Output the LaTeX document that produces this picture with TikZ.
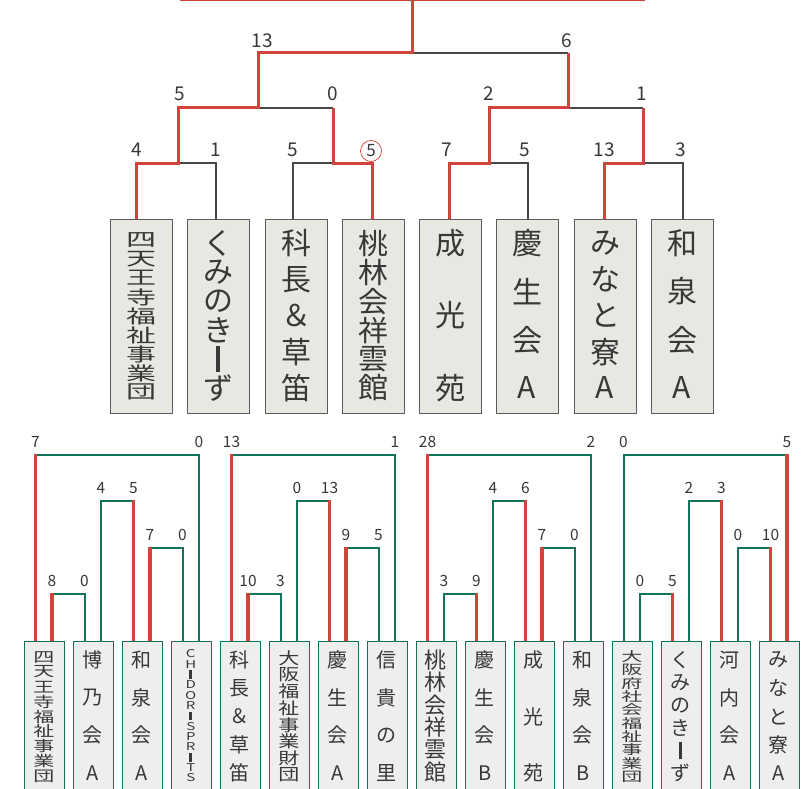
\documentclass[tikz,border=0pt]{standalone}
\usepackage{fontspec}
\usepackage{graphicx}
\setmainfont{Noto Sans CJK JP}
\usetikzlibrary{calc}
\definecolor{wred}{HTML}{D0443C}
\definecolor{lgrey}{HTML}{474747}
\definecolor{tgreen}{HTML}{13735A}
\definecolor{topfill}{HTML}{E9E7E2}
\definecolor{botfill}{HTML}{EDEFEC}
\definecolor{txt}{HTML}{383838}
\definecolor{boxline}{HTML}{5A5A5A}
\newcommand\vbarchar{\rule{0.13em}{0.85em}}
\newcommand\Ibar{\rule{0.17em}{0.8em}}
\newcommand\vcol[8]{%
  \foreach \ch [count=\i from 0] in {#8}{%
    \pgfmathsetmacro\yy{#3+(#4-#3)*\i/(#5-1)}%
    \node[chr, font=\fontsize{#6}{#6}\selectfont] (#1-\i) at (#2,\yy) {\scalebox{1}[#7]{\ch}};
  }%
}
% name, xa, xb, y, score a, score b, winner (1 left / 2 right)
\newcommand\match[7]{%
  \draw[botlose] (#2,641) -- (#2,#4) -- (#3,#4) -- (#3,641);
  \ifnum#7=1 \draw[botwin] (#2,#4-1) -- (#2,641);\else \draw[botwin] (#3,#4-1) -- (#3,641);\fi
  \node[bscore] (#1a) at (#2,#4-13) {#5};
  \node[bscore] (#1b) at (#3,#4-13) {#6};
}
\begin{document}
\begin{tikzpicture}[x=1pt,y=-1pt,
  chr/.style={inner sep=0pt, text=txt},
  topwin/.style={draw=wred, line width=3pt},
  toplose/.style={draw=lgrey, line width=1.5pt},
  botlose/.style={draw=tgreen, line width=2pt},
  botwin/.style={draw=wred, line width=3.2pt},
  topbox/.style={draw=boxline, fill=topfill, line width=1.2pt, minimum width=62pt, minimum height=194pt, anchor=north west, inner sep=0pt},
  botbox/.style={draw=tgreen, fill=botfill, line width=1.3pt, minimum width=39.5pt, minimum height=170pt, anchor=north west, inner sep=0pt},
  tscore/.style={text=txt, font=\fontsize{19}{19}\selectfont, inner sep=0pt},
  bscore/.style={text=txt, font=\fontsize{15.5}{15.5}\selectfont, inner sep=0pt},
]
\useasboundingbox (0,0) rectangle (811,789);
\clip (0,0) rectangle (811,789);

% ---------- top bracket ----------
\coordinate (L1) at (136,219);
\coordinate (L2) at (216,219);
\coordinate (L3) at (293,219);
\coordinate (L4) at (372,219);
\coordinate (L5) at (449,219);
\coordinate (L6) at (528,219);
\coordinate (L7) at (604,219);
\coordinate (L8) at (683,219);
\coordinate (M1) at (178,163);
\coordinate (M2) at (333,163);
\coordinate (M3) at (489,163);
\coordinate (M4) at (643,163);
\coordinate (N1) at (258,108);
\coordinate (N2) at (568,108);
\coordinate (F) at (412,53);
\coordinate (FT) at (412,0);
\coordinate (TL) at (180,0);
\coordinate (TR) at (645,0);

\draw[toplose] (L2) |- (M1);
\draw[toplose] (L3) |- (M2);
\draw[toplose] (L6) |- (M3);
\draw[toplose] (L8) |- (M4);
\draw[toplose] (N1) -- (M2 |- N1);
\draw[toplose] (N2) -- (M4 |- N2);
\draw[toplose] (F) -- (N2 |- F);

\draw[topwin] (L1) |- (M1) |- (N1) |- (F) -- (FT);
\draw[topwin] (L4) |- (M2) -- (M2 |- N1);
\draw[topwin] (L5) |- (M3) |- (N2) -- (N2 |- F);
\draw[topwin] (L7) |- (M4) -- (M4 |- N2);
\draw[topwin] (TL) -- (TR);

\node[tscore] (s1) at (262,41) {13};
\node[tscore] (s2) at (567,41) {6};
\node[tscore] (s3) at (180,94) {5};
\node[tscore] (s4) at (333,94) {0};
\node[tscore] (s5) at (489,94) {2};
\node[tscore] (s6) at (642,94) {1};
\node[tscore] (s7) at (137,150) {4};
\node[tscore] (s8) at (216,150) {1};
\node[tscore] (s9) at (293,150) {5};
\node[tscore, font=\fontsize{17}{17}\selectfont, draw=wred, circle, line width=0.7pt, minimum size=21pt] (s10) at (371,151) {5};
\node[tscore] (s11) at (447,150) {7};
\node[tscore] (s12) at (525,150) {5};
\node[tscore] (s13) at (604,150) {13};
\node[tscore] (s14) at (681,150) {3};

\node[topbox] (t1) at (110,219) {};
\node[topbox] (t2) at (187,219) {};
\node[topbox] (t3) at (265,219) {};
\node[topbox] (t4) at (342,219) {};
\node[topbox] (t5) at (419,219) {};
\node[topbox] (t6) at (496,219) {};
\node[topbox] (t7) at (574,219) {};
\node[topbox] (t8) at (651,219) {};

\vcol{tx1}{141}{240}{392}{9}{30}{0.62}{四,天,王,寺,福,祉,事,業,団}
\vcol{tx2}{218}{243}{388}{6}{30}{1}{く,み,の,き,\vbarchar,ず}
\vcol{tx3}{296}{243}{388}{5}{30}{1}{科,長,＆,草,笛}
\vcol{tx4}{373}{244}{388}{6}{30}{0.96}{桃,林,会,祥,雲,館}
\vcol{tx5}{450}{243}{388}{3}{30}{1}{成,光,苑}
\vcol{tx6}{527}{243}{388}{4}{30}{1}{慶,生,会,A}
\vcol{tx7}{605}{243}{388}{5}{30}{1}{み,な,と,寮,A}
\vcol{tx8}{682}{243}{388}{4}{30}{1}{和,泉,会,A}

% ---------- bottom leagues ----------
\match{ga1}{35.5}{199}{455}{7}{0}{1}
\match{ga2}{101}{133.5}{501}{4}{5}{2}
\match{ga3}{150}{182.5}{548}{7}{0}{1}
\match{ga4}{52}{84.5}{594}{8}{0}{1}

\match{gb1}{231.5}{395}{455}{13}{1}{1}
\match{gb2}{297}{329.5}{501}{0}{13}{2}
\match{gb3}{346}{378.5}{548}{9}{5}{1}
\match{gb4}{248}{280.5}{594}{10}{3}{1}

\match{gc1}{427.5}{591}{455}{28}{2}{1}
\match{gc2}{493}{525.5}{501}{4}{6}{2}
\match{gc3}{542}{574.5}{548}{7}{0}{1}
\match{gc4}{444}{476.5}{594}{3}{9}{2}

\match{gd1}{623.5}{787}{455}{0}{5}{2}
\match{gd2}{689}{721.5}{501}{2}{3}{2}
\match{gd3}{738}{770.5}{548}{0}{10}{2}
\match{gd4}{640}{672.5}{594}{0}{5}{2}

\foreach \k in {0,...,15}{
  \node[botbox] (b\k) at (24+49*\k,641) {};
}

\vcol{bx1}{43.75}{657}{776}{9}{21}{0.69}{四,天,王,寺,福,祉,事,業,団}
\vcol{bx2}{92.75}{660}{773}{4}{20}{1}{博,乃,会,A}
\vcol{bx3}{141.75}{660}{773}{4}{20}{1}{和,泉,会,A}
\vcol{bx4}{190.75}{654}{778}{13}{15}{0.72}{C,H,\Ibar,D,O,R,\Ibar,S,P,R,\Ibar,T,S}
\vcol{bx5}{239.75}{660}{773}{5}{20}{1}{科,長,＆,草,笛}
\vcol{bx6}{288.75}{658}{775}{8}{21}{0.78}{大,阪,福,祉,事,業,財,団}
\vcol{bx7}{337.75}{660}{773}{4}{20}{1}{慶,生,会,A}
\vcol{bx8}{386.75}{660}{773}{4}{20}{1}{信,貴,の,里}
\vcol{bx9}{435.75}{660}{772}{6}{22}{1}{桃,林,会,祥,雲,館}
\vcol{bx10}{484.75}{660}{773}{4}{20}{1}{慶,生,会,B}
\vcol{bx11}{533.75}{660}{773}{3}{20}{1}{成,光,苑}
\vcol{bx12}{582.75}{660}{773}{4}{20}{1}{和,泉,会,B}
\vcol{bx13}{631.75}{656.5}{776.5}{10}{21}{0.62}{大,阪,府,社,会,福,祉,事,業,団}
\vcol{bx14}{680.75}{660}{773}{6}{20}{1}{く,み,の,き,\vbarchar,ず}
\vcol{bx15}{729.75}{660}{773}{4}{20}{1}{河,内,会,A}
\vcol{bx16}{778.75}{660}{773}{5}{20}{1}{み,な,と,寮,A}
\end{tikzpicture}
\end{document}
